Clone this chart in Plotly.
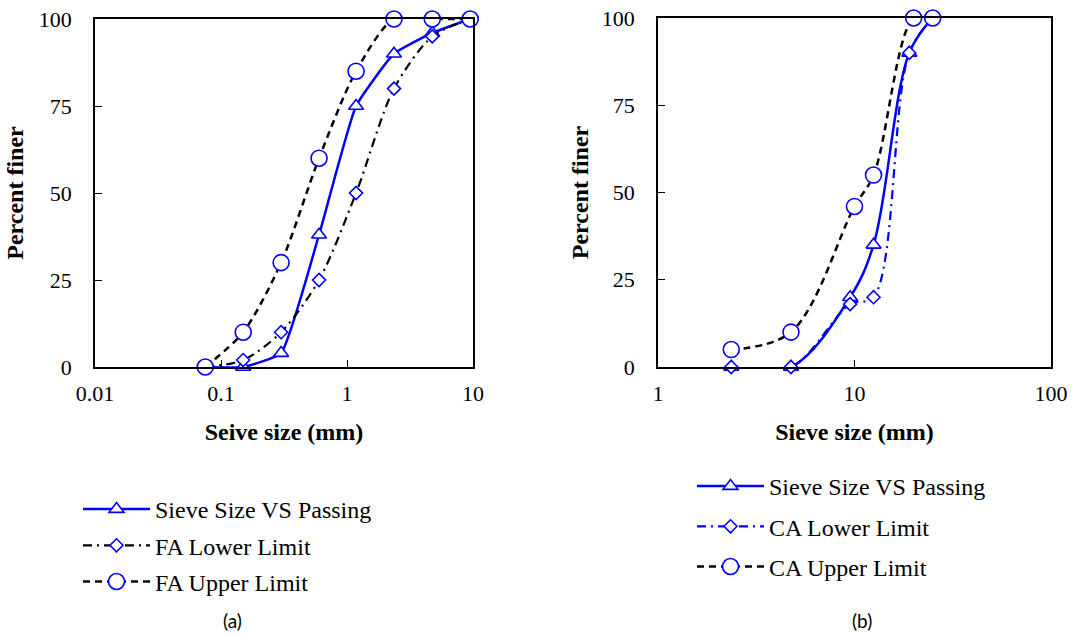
import plotly.graph_objects as go

# ---------------- data ----------------
# (a) fine aggregate
fa_sieve = [0.075, 0.15, 0.3, 0.6, 1.18, 2.36, 4.75, 9.5]
fa_passing = [0, 0, 4, 38, 75, 90, 96, 100]
fa_lower = [0, 2, 10, 25, 50, 80, 95, 100]
fa_upper = [0, 10, 30, 60, 85, 100, 100, 100]

# (b) coarse aggregate
ca_sieve = [2.36, 4.75, 9.5, 12.5, 19, 25]
ca_passing = [0, 0, 20, 35, 90, 100]
ca_lower_sieve = [2.36, 4.75, 9.5, 12.5, 19, 25]
ca_lower = [0, 0, 18, 20, 90, 100]
ca_upper_sieve = [2.36, 4.75, 10, 12.5, 20, 25]
ca_upper = [5, 10, 46, 55, 100, 100]

y_ticks = [0, 25, 50, 75, 100]
fa_x_ticks = [0.01, 0.1, 1, 10]
ca_x_ticks = [1, 10, 100]

legend_a = ["Sieve Size VS Passing", "FA Lower Limit", "FA Upper Limit"]
legend_b = ["Sieve Size VS Passing", "CA Lower Limit", "CA Upper Limit"]

# ---------------- styling ----------------
BLUE = "#0000FF"
W, H = 1075, 636
SERIF = "Liberation Serif"

def px_x(p):
    return p / W

def px_y(p):
    return 1 - p / H

fig = go.Figure()

def add_set(xs, ys, name, symbol, msize, line, xa, ya, legend, group, smoothing=1.0):
    fig.add_trace(go.Scatter(
        x=xs, y=ys, name=name, mode="lines+markers",
        line=dict(shape="spline", smoothing=smoothing, **line),
        marker=dict(symbol=symbol, size=msize, color="white",
                    line=dict(color=BLUE, width=1.6)),
        xaxis=xa, yaxis=ya, legend=legend, legendgroup=group,
        cliponaxis=False,
    ))

# (a)
add_set(fa_sieve, fa_passing, legend_a[0], "triangle-up", 13,
        dict(color=BLUE, width=2.5), "x", "y", "legend", "a1", 0.4)
add_set(fa_sieve, fa_lower, legend_a[1], "diamond", 10,
        dict(color="black", width=2.2, dash="9px,5px,2px,5px"), "x", "y", "legend", "a2", 0.8)
add_set(fa_sieve, fa_upper, legend_a[2], "circle", 16,
        dict(color="black", width=2.5, dash="7px,5px"), "x", "y", "legend", "a3", 0.8)

# (b)
add_set(ca_sieve, ca_passing, legend_b[0], "triangle-up", 13,
        dict(color=BLUE, width=2.5), "x2", "y2", "legend2", "b1", 1.0)
add_set(ca_lower_sieve, ca_lower, legend_b[1], "diamond", 10,
        dict(color=BLUE, width=2.2, dash="9px,5px,2px,5px"), "x2", "y2", "legend2", "b2", 1.0)
add_set(ca_upper_sieve, ca_upper, legend_b[2], "circle", 16,
        dict(color="black", width=2.5, dash="7px,5px"), "x2", "y2", "legend2", "b3", 1.0)

tickfont = dict(family=SERIF, size=22, color="black")
titlefont = dict(family=SERIF, size=24, color="black", weight="bold")

common_axis = dict(showline=True, linecolor="black", linewidth=1.5, mirror=True,
                   showgrid=False, zeroline=False, ticks="inside", ticklen=7,
                   tickcolor="black", tickwidth=1.2, tickfont=tickfont,
                   automargin=False, ticklabeloverflow="allow")

fig.update_layout(
    width=W, height=H,
    margin=dict(l=0, r=0, t=0, b=0),
    paper_bgcolor="white", plot_bgcolor="white",
    font=dict(family=SERIF, color="black"),
    xaxis=dict(type="log", range=[-2, 1], tickvals=fa_x_ticks,
               ticktext=[str(v) for v in fa_x_ticks],
               domain=[px_x(95), px_x(473)], anchor="y",
               title=dict(text="Seive size (mm)", font=titlefont, standoff=18),
               ticklabelstandoff=6, **common_axis),
    yaxis=dict(range=[0, 100], tickvals=y_ticks, domain=[px_y(367), px_y(19)],
               anchor="x",
               title=dict(text="Percent finer", font=titlefont, standoff=8),
               ticklabelstandoff=17, **common_axis),
    xaxis2=dict(type="log", range=[0, 2], tickvals=ca_x_ticks,
                ticktext=[str(v) for v in ca_x_ticks],
                domain=[px_x(658), px_x(1051)], anchor="y2",
                title=dict(text="Sieve size (mm)", font=titlefont, standoff=18),
                ticklabelstandoff=6, **common_axis),
    yaxis2=dict(range=[0, 100], tickvals=y_ticks, domain=[px_y(367), px_y(18)],
                anchor="x2",
                title=dict(text="Percent finer", font=titlefont, standoff=6),
                ticklabelstandoff=17, **common_axis),
    legend=dict(x=px_x(78), y=px_y(487), xanchor="left", yanchor="top",
                font=dict(family=SERIF, size=24, color="black"),
                itemwidth=67, tracegroupgap=2, bgcolor="rgba(0,0,0,0)"),
    legend2=dict(x=px_x(692), y=px_y(464), xanchor="left", yanchor="top",
                 font=dict(family=SERIF, size=24, color="black"),
                 itemwidth=67, tracegroupgap=6, bgcolor="rgba(0,0,0,0)"),
    showlegend=True,
    annotations=[
        dict(text="(a)", x=px_x(232), y=px_y(620), xref="paper", yref="paper",
             xanchor="center", yanchor="middle", showarrow=False,
             font=dict(family="Lato", size=19, color="black")),
        dict(text="(b)", x=px_x(862), y=px_y(620), xref="paper", yref="paper",
             xanchor="center", yanchor="middle", showarrow=False,
             font=dict(family="Lato", size=19, color="black")),
    ],
)

# remove the default 8px page margin so the figure fills the window exactly
fig.write_html("out.html", config={"displayModeBar": False},
               post_script="document.body.style.margin='0';")
